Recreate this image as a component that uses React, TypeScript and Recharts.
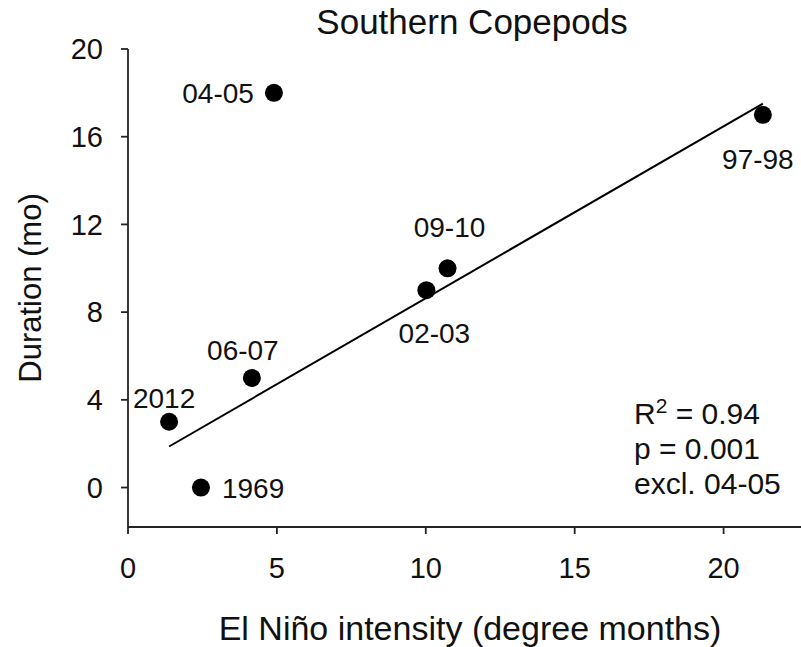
import React from "react";
import { Scatter, ScatterChart, XAxis, YAxis } from "recharts";

// El Niño events (label), intensity in degree months, duration of southern copepods in months
const events = ["1969", "2012", "06-07", "04-05", "02-03", "09-10", "97-98"];
const intensity = [2.45, 1.38, 4.16, 4.9, 10.02, 10.73, 21.32];
const duration = [0, 3, 5, 18, 9, 10, 17];
const excluded = ["04-05"];

const xTicks = [0, 5, 10, 15, 20];
const yTicks = [0, 4, 8, 12, 16, 20];

const points = events.map((name, i) => ({ name, x: intensity[i], y: duration[i] }));

// least squares fit without the excluded year
const fitPts = points.filter((p) => !excluded.includes(p.name));
const mx = fitPts.reduce((s, p) => s + p.x, 0) / fitPts.length;
const my = fitPts.reduce((s, p) => s + p.y, 0) / fitPts.length;
const slope =
  fitPts.reduce((s, p) => s + (p.x - mx) * (p.y - my), 0) /
  fitPts.reduce((s, p) => s + (p.x - mx) * (p.x - mx), 0);
const intercept = my - slope * mx;
const fitXs = [Math.min(...fitPts.map((p) => p.x)), Math.max(...fitPts.map((p) => p.x))];
const fitLine = fitXs.map((x) => ({ x, y: intercept + slope * x }));

// where each point label sits relative to its dot
const labelPos: Record<string, { dx: number; dy: number; anchor: string }> = {
  "1969": { dx: 21, dy: 0, anchor: "start" },
  "2012": { dx: -5, dy: -24, anchor: "middle" },
  "06-07": { dx: -9, dy: -28, anchor: "middle" },
  "04-05": { dx: -20, dy: 0, anchor: "end" },
  "02-03": { dx: 8, dy: 43, anchor: "middle" },
  "09-10": { dx: 2, dy: -41, anchor: "middle" },
  "97-98": { dx: -5, dy: 44, anchor: "middle" },
};

const font = "'Liberation Sans', Arial, sans-serif";
const axisColor = "#222";

function Dot(props: any) {
  const { cx, cy, payload } = props;
  const lp = labelPos[payload.name];
  return (
    <g>
      <circle cx={cx} cy={cy} r={9} fill="#000" />
      <text
        x={cx + lp.dx}
        y={cy + lp.dy + 10}
        textAnchor={lp.anchor as any}
        fontSize={28}
        fontFamily={font}
        fill="#111"
      >
        {payload.name}
      </text>
    </g>
  );
}

export default function App() {
  return (
    <div style={{ position: "absolute", left: 0, top: 0, width: 801, height: 647, background: "#fff", fontFamily: font, color: "#111" }}>
      <ScatterChart width={801} height={647} margin={{ top: 49, right: 0, bottom: 60, left: 0 }}>
        <XAxis
          type="number"
          dataKey="x"
          domain={[0, 22.6]}
          ticks={xTicks}
          allowDataOverflow
          height={60}
          tickSize={7}
          tickMargin={23}
          stroke={axisColor}
          strokeWidth={1.8}
          tick={{ fontSize: 29, fill: "#111", fontFamily: font }}
        />
        <XAxis
          xAxisId="top"
          orientation="top"
          type="number"
          dataKey="x"
          domain={[0, 22.6]}
          height={0}
          tick={false}
          tickLine={false}
          stroke={axisColor}
          strokeWidth={1.8}
        />
        <YAxis
          type="number"
          dataKey="y"
          domain={[-1.8, 20]}
          ticks={yTicks}
          allowDataOverflow
          width={128}
          tickSize={7}
          tickMargin={18}
          stroke={axisColor}
          strokeWidth={1.8}
          tick={{ fontSize: 29, fill: "#111", fontFamily: font }}
        />
        <Scatter
          data={fitLine}
          line={{ stroke: "#000", strokeWidth: 2 }}
          shape={() => <g />}
          legendType="none"
          isAnimationActive={false}
        />
        <Scatter data={points} shape={Dot} isAnimationActive={false} />
      </ScatterChart>

      <div style={{ position: "absolute", left: 472, top: 4, transform: "translateX(-50%)", fontSize: 35, lineHeight: "35px", whiteSpace: "nowrap" }}>
        Southern Copepods
      </div>
      <div style={{ position: "absolute", left: 470, top: 611, transform: "translateX(-50%)", fontSize: 34, lineHeight: "34px", whiteSpace: "nowrap" }}>
        El Niño intensity (degree months)
      </div>
      <div
        style={{
          position: "absolute",
          left: 30,
          top: 288,
          transform: "translate(-50%, -50%) rotate(-90deg)",
          fontSize: 31,
          lineHeight: "31px",
          whiteSpace: "nowrap",
        }}
      >
        Duration (mo)
      </div>
      <div style={{ position: "absolute", left: 634, top: 396, fontSize: 30, lineHeight: "35px", whiteSpace: "nowrap" }}>
        <div>
          R<span style={{ fontSize: 21, position: "relative", top: -11, lineHeight: 0 }}>2</span> = 0.94
        </div>
        <div>p = 0.001</div>
        <div>excl. 04-05</div>
      </div>
    </div>
  );
}
